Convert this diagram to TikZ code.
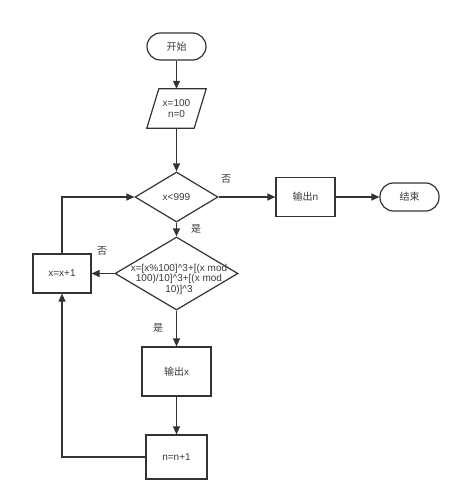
\documentclass[tikz,border=0pt]{standalone}
\usepackage{fontspec}
\setmainfont{Liberation Sans}
\newfontfamily\cjk{Noto Sans CJK SC}
\usetikzlibrary{arrows.meta,shapes.geometric,calc}
\definecolor{ln}{HTML}{333333}
\definecolor{tx}{HTML}{3a3a3a}
\begin{document}
\begin{tikzpicture}[x=1pt,y=-1pt,
  base/.style={draw=ln,line width=1.2pt,fill=white,inner sep=0pt,font=\fontsize{10}{10.5}\selectfont,text=tx,align=center},
  term/.style={base,rectangle,rounded corners=13.5pt},
  proc/.style={base,rectangle},
  dia/.style={base,diamond},
  txt/.style={inner sep=0pt,font=\fontsize{10}{10.5}\selectfont,text=tx,align=center},
  lab/.style={inner sep=0pt,font=\fontsize{10}{10.5}\selectfont\cjk,text=tx},
  conn/.style={draw=ln,line width=1.2pt,-{Triangle[length=8pt,width=7pt]}}]
\useasboundingbox (0,0) rectangle (460,500);
\node[term,minimum width=59pt,minimum height=27pt] (start) at (176.5,46.5) {\cjk 开始};
\node[txt,minimum width=47pt,minimum height=39pt] (inp) at (176.5,108.5) {x=100\\[1pt]n=0};
\draw[draw=ln,line width=1.2pt] ($(inp.south west)+(-6,0)$) -- ($(inp.north west)+(6,0)$) -- ($(inp.north east)+(6,0)$) -- ($(inp.south east)+(-6,0)$) -- cycle;
\node[dia,minimum width=83pt,minimum height=50pt] (d1) at (176.5,197) {};
\node[txt] at (d1) {x<999};
\node[proc,minimum width=59pt,minimum height=39pt] (outn) at (305.5,197) {{\cjk 输出}n};
\node[term,minimum width=59pt,minimum height=28pt] (end) at (409.5,197) {\cjk 结束};
\node[dia,minimum width=123pt,minimum height=73pt] (d2) at (176.5,273.5) {};
\node[txt] (d2t) at (179,279) {x=[x\%100]\textasciicircum3+[(x mod\\100)/10]\textasciicircum3+[(x mod\\10)]\textasciicircum3};
\node[proc,minimum width=58pt,minimum height=39pt] (inc) at (62,273.5) {x=x+1};
\node[proc,minimum width=69pt,minimum height=49pt] (outx) at (176.5,371.5) {{\cjk 输出}x};
\node[proc,minimum width=61pt,minimum height=44pt] (nn) at (176.5,457) {n=n+1};
\draw[conn] (start) -- (inp.north);
\draw[conn] (inp.south) -- (d1.north);
\draw[conn] (d1.east) -- (outn.west);
\draw[conn] (outn.east) -- (end.west);
\draw[conn] (d1.south) -- (d2.north);
\draw[conn] (d2.west) -- (inc.east);
\draw[conn] (d2.south) -- (outx.north);
\draw[conn] (outx.south) -- (nn.north);
\draw[conn] (nn.west) -| (inc.south);
\draw[conn] (inc.north) |- (d1.west);
\node[lab] (l1) at (226,179) {否};
\node[lab] (l2) at (196,229) {是};
\node[lab] (l3) at (102,251) {否};
\node[lab] (l4) at (158,328) {是};
\end{tikzpicture}
\end{document}
